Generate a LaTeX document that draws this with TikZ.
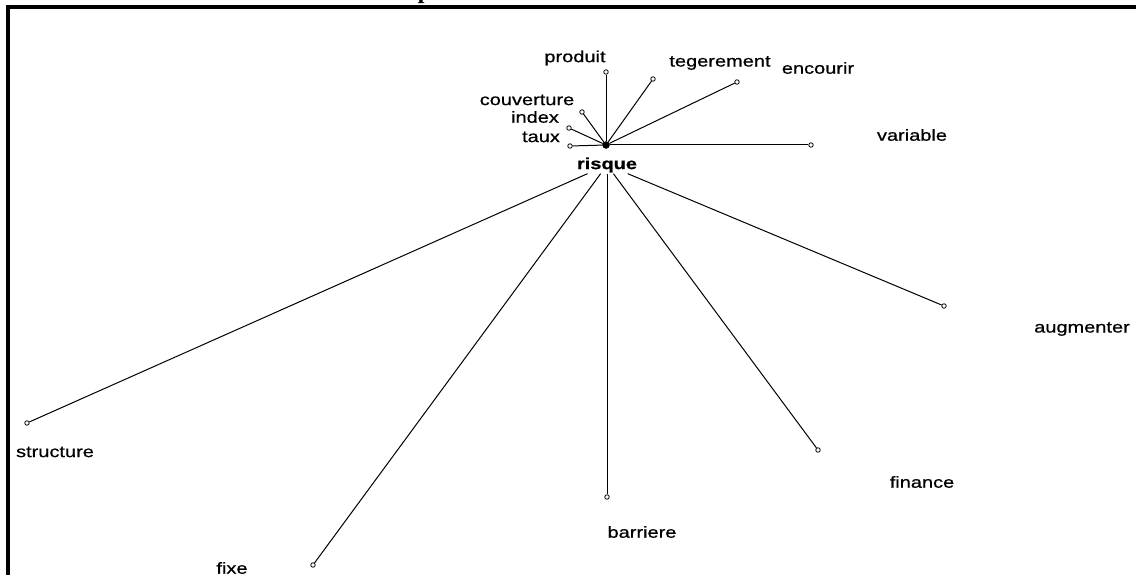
\documentclass[tikz,border=0pt]{standalone}
\usepackage{fontspec}
\setmainfont{Liberation Sans}[FakeStretch=1.25,FakeBold=0.7]
\newfontfamily\titlefont{Liberation Serif}
\usepackage{tikz}
\usetikzlibrary{calc,positioning}
\tikzset{
  hub/.style={circle,draw=black,fill=black,inner sep=0pt,minimum size=7pt},
  leaf/.style={circle,draw=black,fill=white,line width=0.8pt,inner sep=0pt,minimum size=4.5pt},
  word/.style={inner sep=1pt,font=\fontsize{16}{18}\selectfont},
  hubword/.style={inner sep=1pt,font=\fontsize{16}{18}\selectfont\bfseries},
  link/.style={draw,line width=1pt},
  frame/.style={draw,line width=4pt},
}
\begin{document}
\begin{tikzpicture}[x=1pt, y=-1pt]
   \useasboundingbox (0,0) rectangle (1136,575);
   \path[frame] (8,600) -- (8,7) -- (1160,7);
   \node[font=\titlefont\fontsize{24}{26}\selectfont\bfseries, anchor=base] (title) at (516,-1) {produits structurés};

   % centre
   \node[hub] (risque) at (606,145) {};
   \node[hubword] (lrisque) at (607,165) {risque};

   % petits noeuds
   \node[leaf] (produit) at (606,72) {};
   \node[leaf] (tegerement) at (653,79) {};
   \node[leaf] (encourir) at (737,82) {};
   \node[leaf] (variable) at (811,145) {};
   \node[leaf] (couverture) at (582,112) {};
   \node[leaf] (index) at (569,128) {};
   \node[leaf] (taux) at (570,146) {};
   \node[leaf] (structure) at (27,423) {};
   \node[leaf] (fixe) at (313,565) {};
   \node[leaf] (barriere) at (607,497) {};
   \node[leaf] (finance) at (818,450) {};
   \node[leaf] (augmenter) at (944,306) {};

   % etiquettes
   \node[word] (lproduit) at (575,58) {produit};
   \node[word] (ltegerement) at (720,63) {tegerement};
   \node[word] (lencourir) at (818,68) {encourir};
   \node[word] (lvariable) at (912,135) {variable};
   \node[word] (lcouverture) at (527,100) {couverture};
   \node[word] (lindex) at (535,117) {index};
   \node[word] (ltaux) at (541,137) {taux};
   \node[word] (lstructure) at (55,452) {structure};
   \node[word] (lfixe) at (232,568) {fixe};
   \node[word] (lbarriere) at (642,532) {barriere};
   \node[word] (lfinance) at (922,482) {finance};
   \node[word] (laugmenter) at (1082,329) {augmenter};

  \path[link]
    (risque) edge node {} (produit)
             edge node {} (tegerement)
             edge node {} (encourir)
             edge node {} (variable)
             edge node {} (couverture)
             edge node {} (index)
             edge node {} (taux)
    (lrisque) edge node {} (structure)
              edge node {} (fixe)
              edge node {} (barriere)
              edge node {} (finance)
              edge node {} (augmenter);
\end{tikzpicture}
\end{document}
